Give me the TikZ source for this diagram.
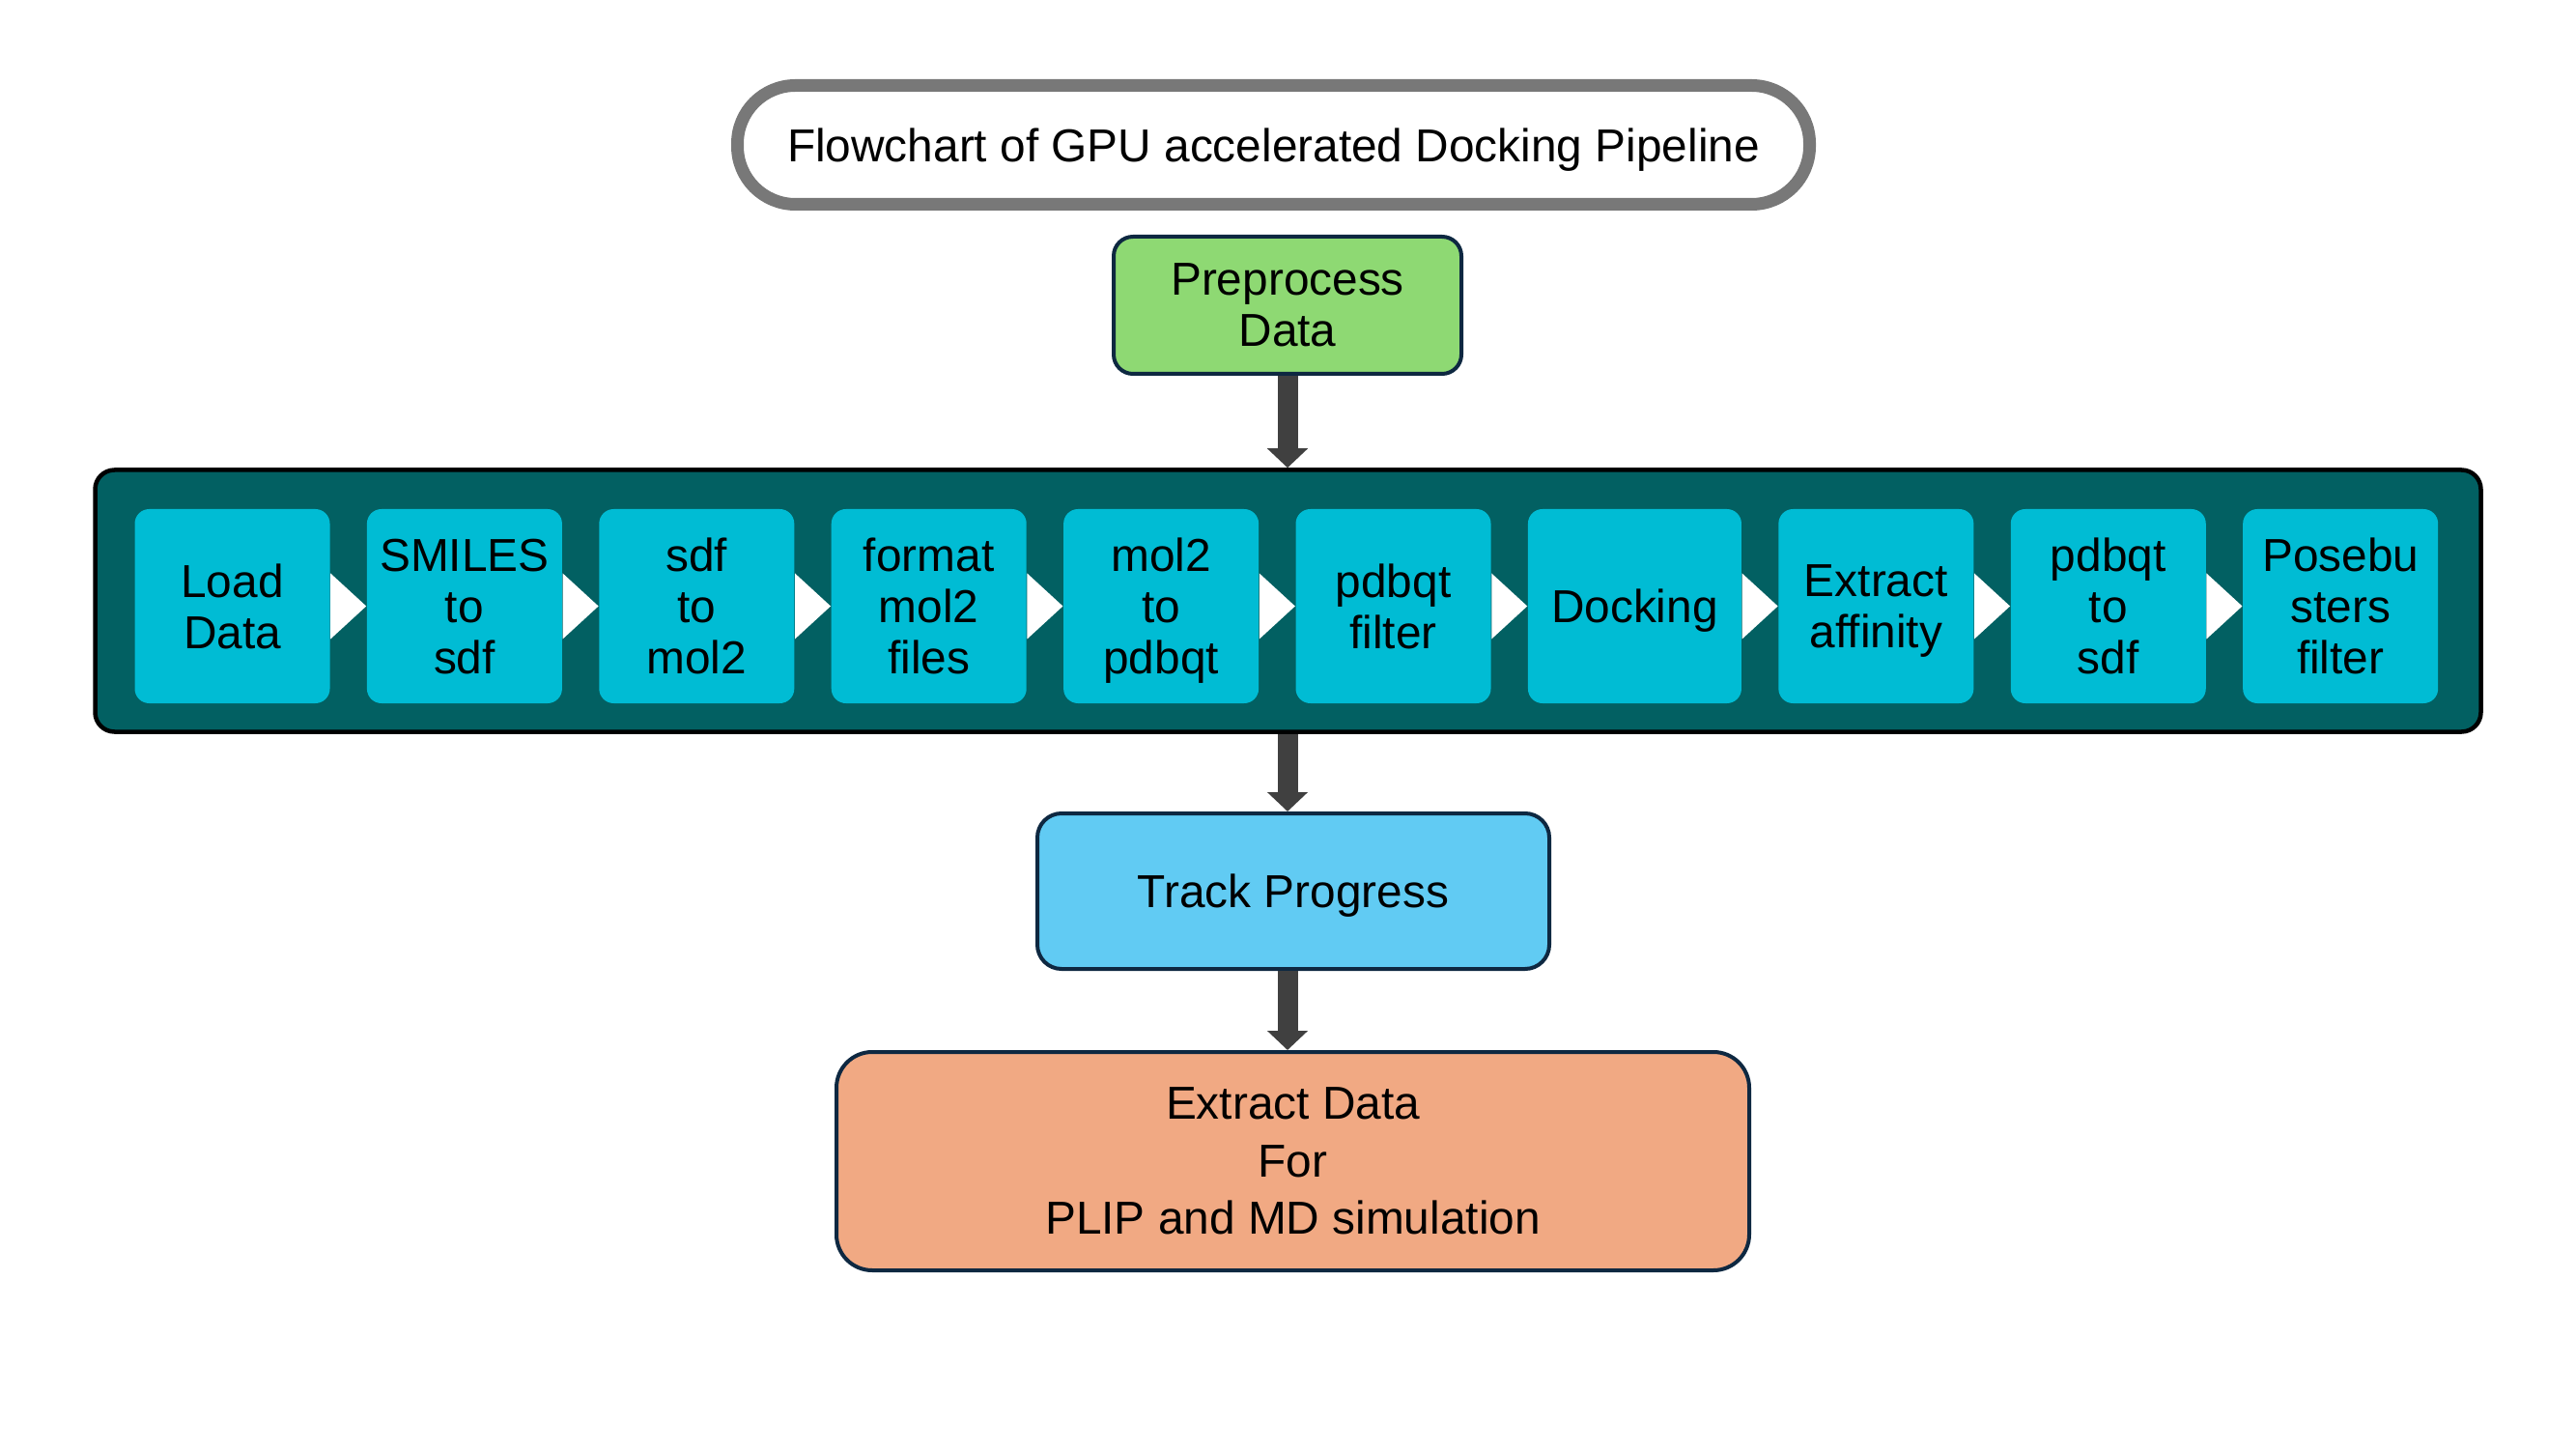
\documentclass[tikz,border=0pt]{standalone}
\usepackage{fontspec}
\setmainfont{Liberation Sans}
\usetikzlibrary{positioning,arrows.meta}
\definecolor{pillgray}{HTML}{787878}
\definecolor{edgeblue}{HTML}{0E2841}
\definecolor{prepgreen}{HTML}{8ED973}
\definecolor{pipeteal}{HTML}{026062}
\definecolor{stagecyan}{HTML}{00BCD4}
\definecolor{trackblue}{HTML}{61CBF3}
\definecolor{extractorange}{HTML}{F1A983}
\definecolor{arrowgray}{HTML}{404040}
\begin{document}
\begin{tikzpicture}[font=\fontsize{13.6pt}{15.1pt}\selectfont]
  \tikzset{box/.style={draw=edgeblue,line width=0.4mm,fill=#1,align=center,inner sep=0pt},
    stage/.style={fill=stagecyan,rounded corners=1.5mm,minimum width=2.02cm,minimum height=2.01cm,align=center,inner sep=0pt,text depth=0pt},
    flow/.style={draw=arrowgray,line width=2.1mm,-{Triangle[width=4.1mm,length=2mm]}}}
  \useasboundingbox (0,0) rectangle (26.67,15);

  \node[draw=pillgray,line width=1.3mm,rounded corners=6mm,minimum width=11.1cm,minimum height=1.23cm,text depth=0pt] (title) at (13.185,13.50) {Flowchart of GPU accelerated Docking Pipeline};
  \node[box=prepgreen,rounded corners=2mm,minimum width=3.6cm,minimum height=1.42cm] (prep) at (13.33,11.84) {Preprocess\\Data};

  % pipeline stages
  \node[draw=black,line width=0.45mm,fill=pipeteal,rounded corners=2mm,minimum width=24.70cm,minimum height=2.71cm] (pipe) at (13.335,8.78) {};
  \node[stage] (s1) at (2.405,8.725) {Load\\Data};
  \node[stage,right=3.7mm of s1] (s2) {SMILES\\to\\sdf};
  \node[stage,right=3.7mm of s2] (s3) {sdf\\to\\mol2};
  \node[stage,right=3.7mm of s3] (s4) {format\\mol2\\files};
  \node[stage,right=3.7mm of s4] (s5) {mol2\\to\\pdbqt};
  \node[stage,right=3.7mm of s5] (s6) {pdbqt\\filter};
  \node[stage,right=3.7mm of s6,minimum width=2.21cm] (s7) {Docking};
  \node[stage,right=3.7mm of s7] (s8) {Extract\\affinity};
  \node[stage,right=3.7mm of s8] (s9) {pdbqt\\to\\sdf};
  \node[stage,right=3.7mm of s9] (s10) {Posebu\\sters\\filter};
  \foreach \a/\b in {s1/s2,s2/s3,s3/s4,s4/s5,s5/s6,s6/s7,s7/s8,s8/s9,s9/s10}
    \fill[white] ([yshift=3.4mm]\a.east) -- (\b.west) -- ([yshift=-3.4mm]\a.east) -- cycle;

  \node[box=trackblue,rounded corners=2.5mm,minimum width=5.30cm,minimum height=1.61cm,text depth=0pt] (track) at (13.39,5.775) {Track Progress};
  \node[box=extractorange,rounded corners=3.7mm,minimum width=9.45cm,minimum height=2.26cm,font=\fontsize{13.6pt}{17pt}\selectfont] (extract) at (13.385,2.98) {Extract Data\\For\\PLIP and MD simulation};

  \draw[flow] (prep.south) -- (prep.south |- pipe.north);
  \draw[flow] (pipe.south -| prep.south) -- (prep.south |- track.north);
  \draw[flow] (track.south -| prep.south) -- (prep.south |- extract.north);
\end{tikzpicture}
\end{document}
